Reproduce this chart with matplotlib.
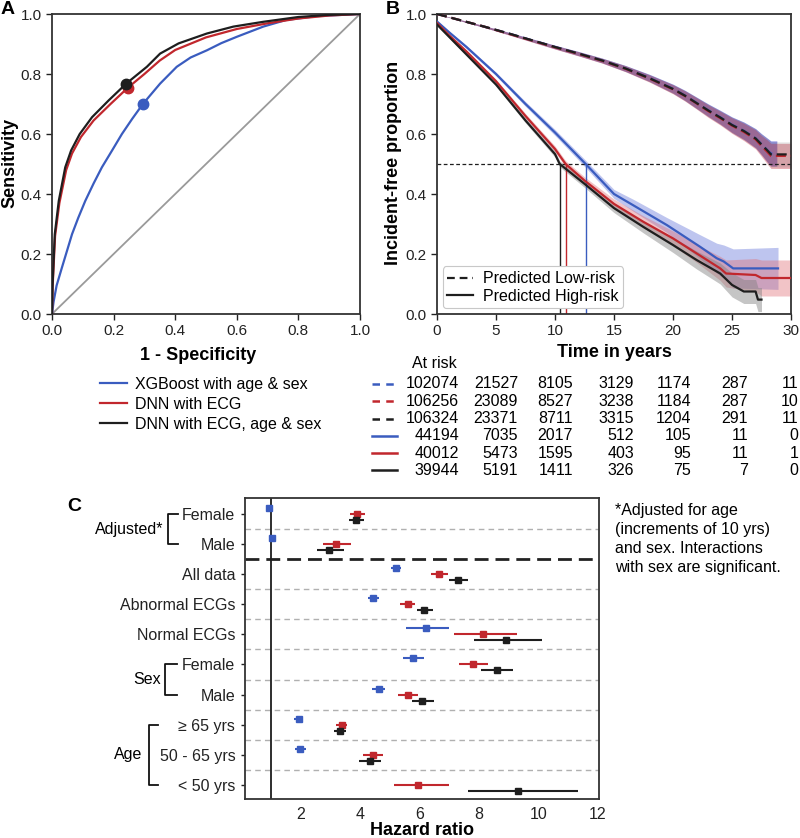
import numpy as np
import matplotlib
matplotlib.use('Agg')
import matplotlib.pyplot as plt
from matplotlib.lines import Line2D
import matplotlib.transforms as mtransforms

plt.rcParams['font.family'] = ['Liberation Sans', 'DejaVu Sans']

# ---------------- DATA ----------------
# Panel A: ROC curves
xgb_fpr = [0, 0.005, 0.015, 0.032, 0.05, 0.065, 0.085, 0.108, 0.135, 0.162, 0.195, 0.227, 0.26, 0.295,
           0.351, 0.405, 0.45, 0.503, 0.55, 0.6, 0.686, 0.76, 0.86, 1.0]
xgb_tpr = [0, 0.04, 0.095, 0.154, 0.215, 0.266, 0.32, 0.377, 0.435, 0.489, 0.545, 0.6, 0.65, 0.70,
           0.768, 0.824, 0.855, 0.879, 0.903, 0.924, 0.958, 0.98, 0.993, 1.0]
dnn_fpr = [0, 0.002, 0.01, 0.024, 0.046, 0.065, 0.094, 0.135, 0.19, 0.246, 0.3, 0.35, 0.4, 0.5, 0.6,
           0.7, 0.8, 0.9, 1.0]
dnn_tpr = [0, 0.09, 0.26, 0.37, 0.48, 0.535, 0.59, 0.645, 0.70, 0.754, 0.80, 0.845, 0.88, 0.922, 0.95,
           0.969, 0.985, 0.995, 1.0]
dnnas_fpr = [0, 0.002, 0.009, 0.022, 0.043, 0.062, 0.09, 0.13, 0.184, 0.241, 0.308, 0.351, 0.411, 0.503,
             0.589, 0.686, 0.8, 0.9, 1.0]
dnnas_tpr = [0, 0.10, 0.266, 0.377, 0.489, 0.545, 0.60, 0.656, 0.712, 0.768, 0.824, 0.868, 0.902, 0.935,
             0.958, 0.974, 0.99, 0.997, 1.0]
op_fpr = [0.295, 0.246, 0.241]
op_tpr = [0.70, 0.754, 0.768]
roc_labels = ['XGBoost with age & sex', 'DNN with ECG', 'DNN with ECG, age & sex']

# Panel B: survival curves
low_t_blue = [0, 2, 4, 6, 8, 10, 12, 14, 16, 18, 20, 21, 22, 23, 24, 25, 26, 27, 27.5, 28, 28.3, 28.8]
low_s_blue = [1.0, 0.979, 0.958, 0.936, 0.913, 0.890, 0.868, 0.845, 0.818, 0.787, 0.751, 0.729, 0.704, 0.679, 0.656, 0.631, 0.611, 0.586, 0.566, 0.546, 0.535, 0.535]
low_ci_blue = [0, 0.002, 0.003, 0.004, 0.005, 0.006, 0.007, 0.008, 0.010, 0.012, 0.015, 0.017, 0.019, 0.021, 0.023, 0.026, 0.029, 0.032, 0.035, 0.040, 0.042, 0.042]
low_t_red = [0, 2, 4, 6, 8, 10, 12, 14, 16, 18, 20, 21, 22, 23, 24, 25, 26, 27, 27.5, 28, 28.3, 30]
low_s_red = [1.0, 0.979, 0.958, 0.935, 0.912, 0.889, 0.867, 0.844, 0.817, 0.785, 0.749, 0.727, 0.702, 0.676, 0.653, 0.628, 0.607, 0.582, 0.560, 0.540, 0.527, 0.527]
low_ci_red = [0, 0.002, 0.003, 0.004, 0.005, 0.006, 0.007, 0.008, 0.010, 0.012, 0.015, 0.017, 0.019, 0.021, 0.023, 0.026, 0.029, 0.032, 0.035, 0.040, 0.042, 0.042]
low_t_black = [0, 2, 4, 6, 8, 10, 12, 14, 16, 18, 20, 21, 22, 23, 24, 25, 26, 27, 27.5, 28, 28.3, 30]
low_s_black = [1.0, 0.979, 0.958, 0.936, 0.913, 0.890, 0.868, 0.845, 0.818, 0.786, 0.750, 0.728, 0.703, 0.678, 0.655, 0.630, 0.610, 0.585, 0.565, 0.545, 0.532, 0.532]
low_ci_black = [0, 0.002, 0.003, 0.004, 0.005, 0.006, 0.007, 0.008, 0.010, 0.012, 0.015, 0.017, 0.019, 0.021, 0.023, 0.026, 0.029, 0.032, 0.035, 0.040, 0.042, 0.042]

high_t_blue = [0, 1, 2.5, 5, 7.5, 10, 12.6, 15, 16.65, 19.5, 22.3, 23.7, 24.3, 25.1, 28.9]
high_s_blue = [0.975, 0.94, 0.89, 0.80, 0.70, 0.605, 0.50, 0.40, 0.362, 0.296, 0.224, 0.186, 0.175, 0.152, 0.152]
high_ci_blue = [0.003, 0.004, 0.005, 0.006, 0.008, 0.010, 0.012, 0.015, 0.02, 0.025, 0.04, 0.05, 0.055, 0.065, 0.07]
high_t_red = [0, 1, 2.5, 5, 7.5, 10, 10.9, 12.5, 15, 17.5, 20, 22, 24, 24.5, 27, 27.5, 30]
high_s_red = [0.97, 0.93, 0.875, 0.776, 0.66, 0.55, 0.50, 0.445, 0.367, 0.307, 0.252, 0.202, 0.152, 0.135, 0.13, 0.12, 0.12]
high_ci_red = [0.003, 0.004, 0.005, 0.006, 0.008, 0.010, 0.011, 0.012, 0.016, 0.02, 0.025, 0.03, 0.04, 0.045, 0.055, 0.06, 0.06]
high_t_black = [0, 1, 2.5, 5, 7.5, 10, 10.4, 12.5, 15, 17.5, 20, 22, 24, 25, 26, 27, 27.2, 27.5]
high_s_black = [0.965, 0.925, 0.865, 0.765, 0.645, 0.533, 0.50, 0.434, 0.353, 0.29, 0.23, 0.18, 0.135, 0.097, 0.075, 0.075, 0.048, 0.048]
high_ci_black = [0.003, 0.004, 0.005, 0.006, 0.008, 0.010, 0.010, 0.012, 0.015, 0.02, 0.025, 0.03, 0.035, 0.04, 0.04, 0.04, 0.04, 0.04]
median_times = [12.6, 10.9, 10.4]   # blue, red, black (high-risk)

risk_times = [0, 5, 10, 15, 20, 25, 30]
risk_low_xgb = [102074, 21527, 8105, 3129, 1174, 287, 11]
risk_low_dnn = [106256, 23089, 8527, 3238, 1184, 287, 10]
risk_low_dnnas = [106324, 23371, 8711, 3315, 1204, 291, 11]
risk_high_xgb = [44194, 7035, 2017, 512, 105, 11, 0]
risk_high_dnn = [40012, 5473, 1595, 403, 95, 11, 1]
risk_high_dnnas = [39944, 5191, 1411, 326, 75, 7, 0]

# Panel C: hazard ratios
row_labels = ['Female', 'Male', 'All data', 'Abnormal ECGs', 'Normal ECGs',
              'Female', 'Male', '\u2265 65 yrs', '50 - 65 yrs', '< 50 yrs']
nan = np.nan
hr_blue = [0.94, 1.02, 5.20, 4.44, 6.22, 5.79, 4.62, 1.93, 1.98, nan]
lo_blue = [0.90, 0.98, 5.03, 4.27, 5.53, 5.45, 4.38, 1.78, 1.80, nan]
hi_blue = [0.98, 1.06, 5.38, 4.64, 7.00, 6.16, 4.85, 2.08, 2.19, nan]
hr_red = [3.90, 3.18, 6.66, 5.60, 8.15, 7.81, 5.60, 3.38, 4.42, 5.93]
lo_red = [3.65, 2.75, 6.38, 5.34, 7.17, 7.32, 5.28, 3.20, 4.08, 5.15]
hi_red = [4.17, 3.69, 6.94, 5.86, 9.27, 8.31, 5.93, 3.57, 4.78, 6.98]
hr_black = [3.86, 2.96, 7.29, 6.14, 8.91, 8.59, 6.09, 3.31, 4.33, 9.30]
lo_black = [3.62, 2.55, 7.00, 5.90, 7.84, 8.06, 5.74, 3.13, 3.97, 7.64]
hi_black = [4.12, 3.45, 7.62, 6.44, 10.11, 9.16, 6.47, 3.53, 4.70, 11.34]

# ---------------- STYLE / LAYOUT ----------------
BLUE = '#3a5cbf'
RED = '#c1272d'
BLACK = '#1e1e1e'
SPINE = '#333333'
W, H = 800, 838
fig = plt.figure(figsize=(8, 8.38), dpi=100)


def fx(px):
    return px / W


def fy(py):
    return 1 - py / H


def add_axes_px(l, t, r, b):
    return fig.add_axes([fx(l), fy(b), (r - l) / W, (b - t) / H])


def style_axes(ax, labelsize=11):
    for s in ax.spines.values():
        s.set_color(SPINE)
        s.set_linewidth(1.3)
    ax.tick_params(direction='out', length=4, width=1, labelsize=labelsize, colors='#222222')


# ---------------- Panel A ----------------
axA = add_axes_px(52, 14, 360, 314)
style_axes(axA)
axA.plot([0, 1], [0, 1], color='#9a9a9a', lw=1.3, zorder=1)
axA.plot(xgb_fpr, xgb_tpr, color=BLUE, lw=1.6, zorder=2)
axA.plot(dnn_fpr, dnn_tpr, color=RED, lw=1.6, zorder=3)
axA.plot(dnnas_fpr, dnnas_tpr, color=BLACK, lw=1.6, zorder=4)
for x, y, c, z in zip(op_fpr, op_tpr, [BLUE, RED, BLACK], [5, 6, 7]):
    axA.plot(x, y, 'o', color=c, ms=7.5, zorder=z)
axA.set_xlim(0, 1)
axA.set_ylim(0, 1)
axA.set_xticks(np.arange(0, 1.01, 0.2))
axA.set_yticks(np.arange(0, 1.01, 0.2))
axA.xaxis.set_major_formatter(matplotlib.ticker.FormatStrFormatter('%.1f'))
axA.yaxis.set_major_formatter(matplotlib.ticker.FormatStrFormatter('%.1f'))
fig.text(fx(198), fy(355), '1 - Specificity', ha='center', va='center', fontsize=13, weight='bold')
fig.text(fx(10), fy(163), 'Sensitivity', ha='center', va='center', rotation=90, fontsize=13, weight='bold')
handlesA = [Line2D([], [], color=c, lw=1.6) for c in [BLUE, RED, BLACK]]
axA.legend(handlesA, roc_labels, loc='upper left', bbox_to_anchor=(fx(100), fy(377)),
           bbox_transform=fig.transFigure, frameon=False, fontsize=11.5, handlelength=1.7,
           handletextpad=0.5, labelspacing=0.3, borderpad=0, borderaxespad=0)

# ---------------- Panel B ----------------
axB = add_axes_px(437, 14, 791, 314)
style_axes(axB)
band_specs = [
    (low_t_blue, low_s_blue, low_ci_blue, '#4c50c8', 0.6),
    (low_t_red, low_s_red, low_ci_red, '#c83040', 0.38),
    (low_t_black, low_s_black, low_ci_black, '#444444', 0.12),
    (high_t_blue, high_s_blue, high_ci_blue, '#6f7fdc', 0.45),
    (high_t_red, high_s_red, high_ci_red, '#e06d73', 0.40),
    (high_t_black, high_s_black, high_ci_black, '#808080', 0.45),
]
for t, s, ci, c, a in band_specs:
    t = np.asarray(t); s = np.asarray(s); ci = np.asarray(ci)
    axB.fill_between(t, s - ci, s + ci, color=c, alpha=a, lw=0, zorder=1)
dash = (0, (4.5, 2.2))
axB.plot(low_t_blue, low_s_blue, color=BLUE, lw=1.6, ls=dash, zorder=3)
axB.plot(low_t_red, low_s_red, color=RED, lw=1.6, ls=dash, zorder=4)
axB.plot(low_t_black, low_s_black, color=BLACK, lw=1.6, ls=dash, zorder=5)
axB.plot(high_t_blue, high_s_blue, color=BLUE, lw=1.6, zorder=3)
axB.plot(high_t_red, high_s_red, color=RED, lw=1.6, zorder=4)
axB.plot(high_t_black, high_s_black, color=BLACK, lw=1.6, zorder=5)
axB.axhline(0.5, color=BLACK, lw=0.9, ls=(0, (3, 2)), zorder=2)
for mt, c in zip(median_times, [BLUE, RED, BLACK]):
    axB.plot([mt, mt], [0, 0.5], color=c, lw=1.0, zorder=2)
axB.set_xlim(0, 30)
axB.set_ylim(0, 1)
axB.set_xticks(risk_times)
axB.set_yticks(np.arange(0, 1.01, 0.2))
axB.yaxis.set_major_formatter(matplotlib.ticker.FormatStrFormatter('%.1f'))
fig.text(fx(614), fy(352), 'Time in years', ha='center', va='center', fontsize=13, weight='bold')
fig.text(fx(393), fy(163), 'Incident-free proportion', ha='center', va='center', rotation=90,
         fontsize=13, weight='bold')
handlesB = [Line2D([], [], color=BLACK, lw=1.6, ls=(0, (3.5, 2.2))), Line2D([], [], color=BLACK, lw=1.6)]
legB = axB.legend(handlesB, ['Predicted Low-risk', 'Predicted High-risk'], loc='lower left',
                  fontsize=11.5, frameon=True, fancybox=True, edgecolor='#c8c8c8', framealpha=1,
                  borderaxespad=0.35, handlelength=1.6, handletextpad=0.6, labelspacing=0.15,
                  borderpad=0.3)
legB.get_frame().set_linewidth(0.8)

# at-risk table
fig.text(fx(412), fy(363), 'At risk', ha='left', va='center', fontsize=11.5)
rows_risk = [
    (risk_low_xgb, BLUE, (0, (3, 2.5))),
    (risk_low_dnn, RED, (0, (3, 2.5))),
    (risk_low_dnnas, BLACK, (0, (3, 2.5))),
    (risk_high_xgb, BLUE, '-'),
    (risk_high_dnn, RED, '-'),
    (risk_high_dnnas, BLACK, '-'),
]
col_offsets_px = [22, 22, 18, 20, 18, 16, 7.5]
blend = mtransforms.blended_transform_factory(axB.transData, fig.transFigure)
for i, (counts, c, ls) in enumerate(rows_risk):
    ypx = 384 + i * 17.3
    fig.add_artist(Line2D([fx(372), fx(397)], [fy(ypx), fy(ypx)], color=c, lw=1.8, ls=ls,
                          transform=fig.transFigure))
    for t, n, off in zip(risk_times, counts, col_offsets_px):
        tr = blend + mtransforms.ScaledTranslation(off / 100, 0, fig.dpi_scale_trans)
        axB.text(t, fy(ypx), str(n), transform=tr, ha='right', va='center', fontsize=11.5,
                 clip_on=False)

# ---------------- Panel C ----------------
axC = add_axes_px(245, 498, 599, 799)
style_axes(axC, labelsize=11.5)
rows = np.arange(len(row_labels))
for yy in [0.5, 2.5, 3.5, 4.5, 5.5, 6.5, 7.5, 8.5]:
    axC.axhline(yy, color='#b0b0b0', lw=1.0, ls=(0, (4, 3)), zorder=1)
axC.axhline(1.5, color='#222222', lw=2.0, ls=(0, (5, 2.5)), zorder=1)
axC.axvline(1.0, color=BLACK, lw=1.3, zorder=2)
for hr, lo, hi, c, off in [(hr_blue, lo_blue, hi_blue, BLUE, -0.2),
                           (hr_red, lo_red, hi_red, RED, 0.0),
                           (hr_black, lo_black, hi_black, BLACK, 0.2)]:
    hr = np.asarray(hr); lo = np.asarray(lo); hi = np.asarray(hi)
    axC.errorbar(hr, rows + off, xerr=[hr - lo, hi - hr], fmt='s', color=c, ms=5,
                 elinewidth=1.5, capsize=0, zorder=3)
axC.set_xlim(0.12, 12.04)
axC.set_ylim(9.47, -0.53)
axC.set_xticks([2, 4, 6, 8, 10, 12])
axC.set_yticks(rows)
axC.set_yticklabels(row_labels)
axC.tick_params(axis='y', length=3, pad=4)
axC.tick_params(axis='x', length=0, pad=6)
fig.text(fx(422), fy(830), 'Hazard ratio', ha='center', va='center', fontsize=13, weight='bold')

# group brackets
bt = mtransforms.blended_transform_factory(fig.transFigure, axC.transData)
for (r0, r1, xv, xh, label, xl) in [(0, 1, 167.5, 178, 'Adjusted*', 163),
                                    (5, 6, 165, 177, 'Sex', 161),
                                    (7, 9, 148.5, 158, 'Age', 142)]:
    fig.add_artist(Line2D([fx(xh), fx(xv), fx(xv), fx(xh)], [r0, r0, r1, r1], transform=bt,
                          color='#111111', lw=1.3))
    fig.text(fx(xl), (r0 + r1) / 2, label, transform=bt, ha='right', va='center', fontsize=11.5)

fig.text(fx(615), fy(503), '*Adjusted for age\n(increments of 10 yrs)\nand sex. Interactions\nwith sex are significant.',
         ha='left', va='top', fontsize=11.5, linespacing=1.32)

# panel letters
fig.text(fx(8), fy(9), 'A', ha='center', va='center', fontsize=14, weight='bold')
fig.text(fx(393), fy(9), 'B', ha='center', va='center', fontsize=14, weight='bold')
fig.text(fx(74), fy(506), 'C', ha='center', va='center', fontsize=14, weight='bold')

fig.savefig('out.png', dpi=100)
